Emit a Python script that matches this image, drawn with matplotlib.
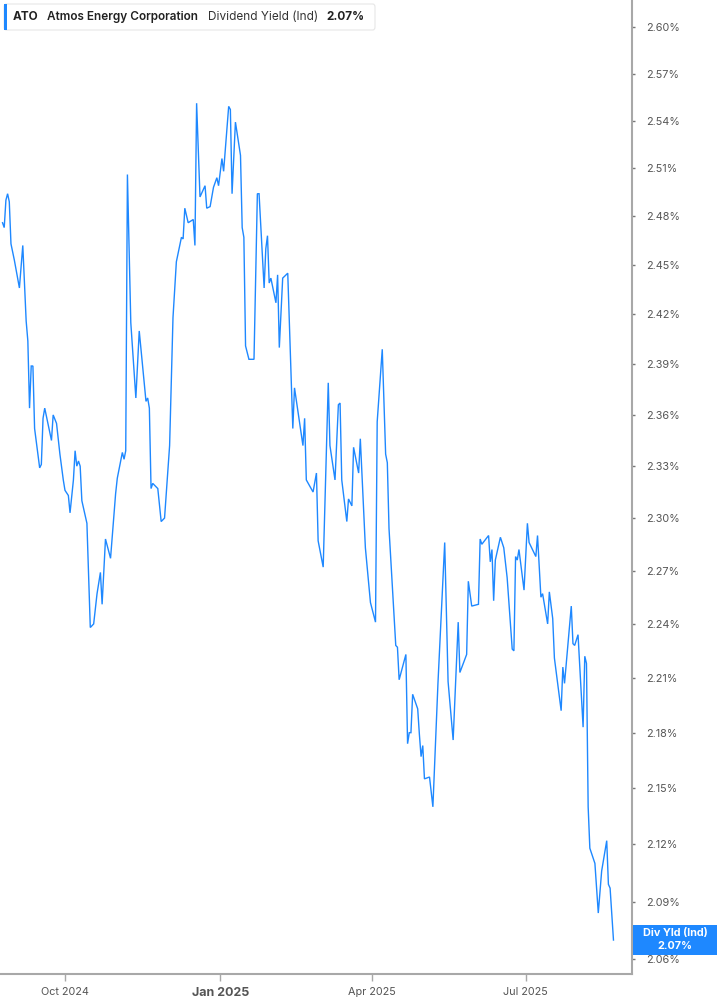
import numpy as np
import pandas as pd
import matplotlib
matplotlib.use("Agg")
import matplotlib.pyplot as plt
import matplotlib.dates as mdates
from matplotlib.patches import FancyBboxPatch, Rectangle

plt.rcParams['font.family'] = ['Inter', 'DejaVu Sans']

ticker = "ATO"
company = "Atmos Energy Corporation"
metric = "Dividend Yield (Ind)"
last_label = "2.07%"

dates = [
    "2024-08-25", "2024-08-26", "2024-08-27", "2024-08-28", "2024-08-29", "2024-08-30",
    "2024-09-01", "2024-09-04", "2024-09-06", "2024-09-08", "2024-09-09", "2024-09-10",
    "2024-09-11", "2024-09-12", "2024-09-13", "2024-09-16", "2024-09-17", "2024-09-18",
    "2024-09-19", "2024-09-23", "2024-09-24", "2024-09-26", "2024-09-28", "2024-09-30",
    "2024-10-01", "2024-10-03", "2024-10-04", "2024-10-06", "2024-10-07", "2024-10-08",
    "2024-10-09", "2024-10-10", "2024-10-11", "2024-10-14", "2024-10-16", "2024-10-18",
    "2024-10-20", "2024-10-22", "2024-10-23", "2024-10-25", "2024-10-28", "2024-10-31",
    "2024-11-01", "2024-11-04", "2024-11-05", "2024-11-06", "2024-11-07", "2024-11-09",
    "2024-11-12", "2024-11-14", "2024-11-18", "2024-11-19", "2024-11-20", "2024-11-21",
    "2024-11-22", "2024-11-25", "2024-11-27", "2024-11-29", "2024-12-02", "2024-12-04",
    "2024-12-06", "2024-12-09", "2024-12-10", "2024-12-11", "2024-12-13", "2024-12-16",
    "2024-12-17", "2024-12-18", "2024-12-20", "2024-12-23", "2024-12-24", "2024-12-26",
    "2024-12-28", "2024-12-30", "2024-12-31", "2025-01-02", "2025-01-03", "2025-01-06",
    "2025-01-07", "2025-01-08", "2025-01-10", "2025-01-13", "2025-01-14", "2025-01-15",
    "2025-01-16", "2025-01-18", "2025-01-21", "2025-01-23", "2025-01-24", "2025-01-27",
    "2025-01-28", "2025-01-29", "2025-01-30", "2025-01-31", "2025-02-03", "2025-02-04",
    "2025-02-05", "2025-02-07", "2025-02-10", "2025-02-13", "2025-02-14", "2025-02-19",
    "2025-02-20", "2025-02-21", "2025-02-25", "2025-02-27", "2025-02-28", "2025-03-03",
    "2025-03-06", "2025-03-07", "2025-03-10", "2025-03-12", "2025-03-13", "2025-03-14",
    "2025-03-17", "2025-03-18", "2025-03-20", "2025-03-21", "2025-03-24", "2025-03-25",
    "2025-03-28", "2025-03-31", "2025-04-03", "2025-04-04", "2025-04-07", "2025-04-09",
    "2025-04-10", "2025-04-11", "2025-04-15", "2025-04-16", "2025-04-17", "2025-04-21",
    "2025-04-22", "2025-04-23", "2025-04-24", "2025-04-25", "2025-04-28", "2025-04-29",
    "2025-04-30", "2025-05-01", "2025-05-02", "2025-05-05", "2025-05-07", "2025-05-10",
    "2025-05-14", "2025-05-16", "2025-05-19", "2025-05-22", "2025-05-23", "2025-05-27",
    "2025-05-28", "2025-05-30", "2025-06-03", "2025-06-04", "2025-06-05", "2025-06-09",
    "2025-06-10", "2025-06-11", "2025-06-12", "2025-06-13", "2025-06-16", "2025-06-18",
    "2025-06-20", "2025-06-23", "2025-06-24", "2025-06-25", "2025-06-26", "2025-06-27",
    "2025-06-30", "2025-07-02", "2025-07-03", "2025-07-07", "2025-07-08", "2025-07-10",
    "2025-07-11", "2025-07-14", "2025-07-15", "2025-07-17", "2025-07-18", "2025-07-22",
    "2025-07-23", "2025-07-24", "2025-07-28", "2025-07-29", "2025-07-30", "2025-08-01",
    "2025-08-04", "2025-08-05", "2025-08-06", "2025-08-07", "2025-08-08", "2025-08-11",
    "2025-08-13", "2025-08-15", "2025-08-18", "2025-08-19", "2025-08-20", "2025-08-22",
]

div_yield = [
    2.476, 2.473, 2.490, 2.494, 2.489, 2.463,
    2.453, 2.436, 2.462, 2.416, 2.404, 2.364,
    2.389, 2.389, 2.352, 2.329, 2.331, 2.358,
    2.364, 2.345, 2.360, 2.355, 2.337, 2.322,
    2.316, 2.313, 2.303, 2.322, 2.339, 2.330,
    2.333, 2.330, 2.310, 2.297, 2.238, 2.240,
    2.257, 2.269, 2.251, 2.288, 2.277, 2.314,
    2.323, 2.338, 2.334, 2.339, 2.506, 2.415,
    2.370, 2.410, 2.368, 2.370, 2.364, 2.317,
    2.320, 2.317, 2.298, 2.300, 2.342, 2.418,
    2.452, 2.467, 2.466, 2.485, 2.476, 2.478,
    2.462, 2.551, 2.492, 2.499, 2.485, 2.486,
    2.498, 2.504, 2.499, 2.516, 2.508, 2.549,
    2.547, 2.494, 2.539, 2.518, 2.473, 2.467,
    2.401, 2.393, 2.393, 2.494, 2.494, 2.436,
    2.460, 2.468, 2.439, 2.442, 2.427, 2.444,
    2.400, 2.442, 2.445, 2.352, 2.376, 2.342,
    2.358, 2.322, 2.315, 2.326, 2.287, 2.272,
    2.379, 2.342, 2.322, 2.366, 2.367, 2.322,
    2.298, 2.311, 2.307, 2.341, 2.326, 2.346,
    2.283, 2.252, 2.241, 2.356, 2.399, 2.337,
    2.332, 2.294, 2.228, 2.227, 2.209, 2.223,
    2.174, 2.180, 2.180, 2.201, 2.193, 2.179,
    2.167, 2.173, 2.155, 2.156, 2.140, 2.207,
    2.286, 2.208, 2.176, 2.241, 2.213, 2.223,
    2.264, 2.250, 2.251, 2.288, 2.285, 2.290,
    2.275, 2.282, 2.253, 2.276, 2.289, 2.283,
    2.266, 2.226, 2.225, 2.278, 2.276, 2.282,
    2.259, 2.297, 2.286, 2.278, 2.290, 2.255,
    2.257, 2.240, 2.258, 2.243, 2.221, 2.192,
    2.216, 2.207, 2.250, 2.229, 2.228, 2.234,
    2.183, 2.222, 2.218, 2.140, 2.118, 2.110,
    2.084, 2.106, 2.122, 2.099, 2.097, 2.070,
]

y_ticks = [2.06, 2.09, 2.12, 2.15, 2.18, 2.21, 2.24, 2.27, 2.30, 2.33, 2.36,
           2.39, 2.42, 2.45, 2.48, 2.51, 2.54, 2.57, 2.60]
x_ticks = ["2024-10-01", "2025-01-01", "2025-04-01", "2025-07-01"]
x_labels = ["Oct 2024", "Jan 2025", "Apr 2025", "Jul 2025"]

blue = "#1e88ff"
axis_grey = "#a8a8a8"
text_grey = "#555555"

d = pd.to_datetime(dates)

fig = plt.figure(figsize=(7.17, 10.05), dpi=100)
ax = fig.add_axes([0.0, 0.0308, 0.8815, 0.9692])

ax.plot(d, div_yield, color=blue, lw=1.0, solid_joinstyle='miter')

ax.set_yscale('log')
ax.set_ylim(2.0525, 2.6176)
ax.set_xlim(pd.Timestamp("2024-08-23 12:00"), pd.Timestamp("2025-09-02"))

ax.yaxis.tick_right()
ax.set_yticks(y_ticks)
ax.set_yticklabels([f"{v:.2f}%" for v in y_ticks])
ax.yaxis.set_minor_locator(matplotlib.ticker.NullLocator())
ax.tick_params(axis='y', which='major', direction='out', length=2.5, width=1,
               color="#777777", labelsize=7.8, labelcolor=text_grey, pad=8)

ax.set_xticks(pd.to_datetime(x_ticks))
ax.set_xticklabels(x_labels)
ax.tick_params(axis='x', direction='out', length=5, width=1, color=axis_grey,
               labelsize=7.8, labelcolor=text_grey, pad=4)
for lab in ax.get_xticklabels():
    if lab.get_text() == "Jan 2025":
        lab.set_fontweight('bold')
        lab.set_fontsize(9)

for side in ['left', 'top']:
    ax.spines[side].set_visible(False)
for side in ['right', 'bottom']:
    ax.spines[side].set_color(axis_grey)
    ax.spines[side].set_linewidth(1.5)

# header box
box = FancyBboxPatch((4 / 717, 1 - 30 / 1005), 371 / 717, 26 / 1005,
                     boxstyle="round,pad=0,rounding_size=0.003",
                     transform=fig.transFigure, facecolor="white",
                     edgecolor="#e6e6e6", lw=0.8, zorder=5)
fig.patches.append(box)
fig.patches.append(Rectangle((4 / 717, 1 - 30 / 1005), 3 / 717, 26 / 1005,
                             transform=fig.transFigure, facecolor=blue,
                             edgecolor='none', zorder=6))
ty = 1 - 17 / 1005
fig.text(13 / 717, ty, ticker, fontsize=8.5, fontweight='bold', color="#222222",
         va='center', zorder=7)
fig.text(47 / 717, ty, company, fontsize=8.5, fontweight='semibold', color="#222222",
         va='center', zorder=7)
fig.text(208 / 717, ty, metric, fontsize=8.5, color="#333333", va='center', zorder=7)
fig.text(326 / 717, ty, last_label, fontsize=8.5, fontweight='bold', color="#222222",
         va='center', zorder=7)

# last value tag on the axis
last_y = ax.transData.transform((mdates.date2num(d[-1]), div_yield[-1]))[1]
fig_h = fig.get_figheight() * fig.dpi
tag_c = last_y / fig_h
fig.patches.append(Rectangle((633 / 717, tag_c - 15 / 1005), 84 / 717, 30 / 1005,
                             transform=fig.transFigure, facecolor=blue,
                             edgecolor='none', zorder=6))
fig.text(675 / 717, tag_c + 7 / 1005, "Div Yld (Ind)", fontsize=7.8, fontweight='bold',
         color='white', ha='center', va='center', zorder=7)
fig.text(675 / 717, tag_c - 6 / 1005, last_label, fontsize=7.8, fontweight='bold',
         color='white', ha='center', va='center', zorder=7)

fig.savefig("out.png", dpi=100)
